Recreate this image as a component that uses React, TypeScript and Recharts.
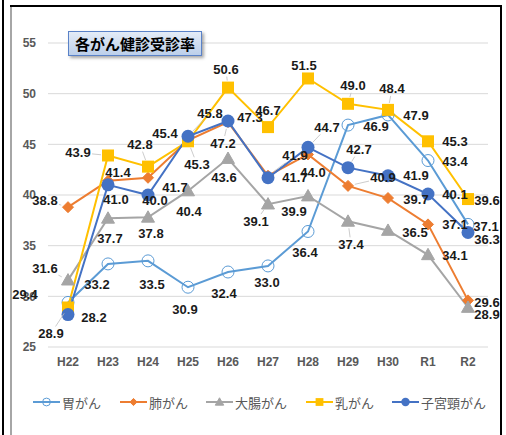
import React from 'react';
import { LineChart, Line, XAxis, YAxis, CartesianGrid, LabelList } from 'recharts';

const categories = ['H22', 'H23', 'H24', 'H25', 'H26', 'H27', 'H28', 'H29', 'H30', 'R1', 'R2'];
const stomach = [29.4, 33.2, 33.5, 30.9, 32.4, 33.0, 36.4, 46.9, 47.9, 43.4, 37.1];
const lung = [38.8, 41.4, 41.7, 45.4, 47.2, 41.9, 44.0, 40.9, 39.7, 37.1, 29.6];
const colorectal = [31.6, 37.7, 37.8, 40.4, 43.6, 39.1, 39.9, 37.4, 36.5, 34.1, 28.9];
const breast = [28.9, 43.9, 42.8, 45.3, 50.6, 46.7, 51.5, 49.0, 48.4, 45.3, 39.6];
const cervical = [28.2, 41.0, 40.0, 45.8, 47.3, 41.7, 44.7, 42.7, 41.9, 40.1, 36.3];
const yTicks = [25, 30, 35, 40, 45, 50, 55];

const seriesNames = ['胃がん', '肺がん', '大腸がん', '乳がん', '子宮頸がん'];
const seriesKeys = ['stomach', 'lung', 'colorectal', 'breast', 'cervical'];
const seriesColors = ['#5B9BD5', '#ED7D31', '#A5A5A5', '#FFC000', '#4472C4'];

const data = categories.map((c, i) => ({
  name: c,
  stomach: stomach[i],
  lung: lung[i],
  colorectal: colorectal[i],
  breast: breast[i],
  cervical: cervical[i],
}));

// label placement offsets (dx, dy, leader)
const labelOffsets: Record<string, [number, number, boolean?][]> = {
  stomach: [[-43, -8], [-11, 21], [4, 24], [-3, 22], [-4, 21], [-1, 17], [-3, 21], [28, 1], [28, 1], [27, 1], [18, 2]],
  lung: [[-23, -7, true], [10, -8], [27, 10], [-23, -7], [-5, 21, true], [27, -20, true], [5, 18], [35, -8, true], [28, 1], [27, 0], [19, 2]],
  colorectal: [[-23, -12, true], [2, 20], [3, 16], [1, 21], [-4, 19], [-12, 17, true], [-14, 15], [3, 23, true], [27, 2], [27, 1], [19, 7]],
  breast: [[-17, 26, true], [-30, -3, true], [-8, -22, true], [9, 23, true], [-2, -18, true], [0, -17], [-4, -13], [5, -18, true], [4, -21, true], [27, 0], [19, 1]],
  cervical: [[26, 3], [8, 15], [7, 5], [22, -23, true], [22, -4], [27, 0], [19, -20, true], [11, -18, true], [28, 0], [27, 1], [19, 7]],
};

const FONT = '"Liberation Sans", Arial, sans-serif';
const JP = '"Noto Sans CJK JP", "Noto Sans", sans-serif';

function MarkerShape({ kind, cx, cy, color, scale = 1 }: { kind: number; cx: number; cy: number; color: string; scale?: number }) {
  if (cx == null || cy == null) return null;
  switch (kind) {
    case 0: {
      const r = 6 * scale;
      return <circle cx={cx} cy={cy} r={r} fill="none" stroke={color} strokeWidth={1} />;
    }
    case 1: {
      const s = 5.5 * scale;
      return <polygon points={`${cx},${cy - s} ${cx + s},${cy} ${cx},${cy + s} ${cx - s},${cy}`} fill={color} stroke={color} />;
    }
    case 2: {
      const s = 6.5 * scale;
      return <polygon points={`${cx},${cy - s} ${cx + s},${cy + s * 0.75} ${cx - s},${cy + s * 0.75}`} fill={color} stroke={color} />;
    }
    case 3: {
      const s = 6 * scale;
      return <rect x={cx - s} y={cy - s} width={2 * s} height={2 * s} fill={color} />;
    }
    default: {
      const r = 6.5 * scale;
      return <circle cx={cx} cy={cy} r={r} fill={color} />;
    }
  }
}

function makeLabel(key: string) {
  return (props: any) => {
    const { x, y, value, index } = props;
    if (x == null || y == null) return null;
    const off = labelOffsets[key][index] || [0, -12];
    const [dx, dy, leader] = off;
    const lx = x + dx;
    const ly = y + dy;
    let line = null;
    if (leader) {
      const L = Math.sqrt(dx * dx + dy * dy);
      const ux = dx / L;
      const uy = dy / L;
      const t = Math.min(ux !== 0 ? 14 / Math.abs(ux) : 999, uy !== 0 ? 7 / Math.abs(uy) : 999);
      const sx = x + ux * 7;
      const sy = y + uy * 7;
      const ex = lx - ux * t;
      const ey = ly - uy * t;
      if (L - 7 - t > 2) {
        line = <line x1={sx} y1={sy} x2={ex} y2={ey} stroke="#BFBFBF" strokeWidth={0.8} />;
      }
    }
    return (
      <g key={`lbl-${key}-${index}`}>
        {line}
        <text
          x={lx}
          y={ly}
          textAnchor="middle"
          dominantBaseline="central"
          fontFamily={FONT}
          fontWeight="bold"
          fontSize={13}
          fill="#1a1a1a"
        >
          {Number(value).toFixed(1)}
        </text>
      </g>
    );
  };
}

function makeDot(kind: number, color: string) {
  return (props: any) => {
    const { cx, cy, index } = props;
    return (
      <g key={`dot-${kind}-${index}`}>
        <MarkerShape kind={kind} cx={cx} cy={cy} color={color} />
      </g>
    );
  };
}

const legendLefts = [33, 120, 206, 306, 392];

export default function App() {
  return (
    <div style={{ position: 'absolute', left: 0, top: 0, width: 506, height: 435, background: '#fff', overflow: 'hidden' }}>
      <LineChart
        width={506}
        height={435}
        data={data}
        margin={{ top: 43, right: 18, bottom: 58, left: 0 }}
      >
        <CartesianGrid horizontal vertical={false} stroke="#D9D9D9" strokeWidth={1} />
        <XAxis
          dataKey="name"
          axisLine={false}
          tickLine={false}
          tickSize={0}
          tickMargin={10}
          height={30}
          padding={{ left: 20, right: 20 }}
          tick={{ fontFamily: FONT, fontWeight: 'bold', fontSize: 12, fill: '#595959' }}
          interval={0}
        />
        <YAxis
          domain={[25, 55]}
          ticks={yTicks}
          width={48}
          axisLine={false}
          tickLine={false}
          tickSize={0}
          tickMargin={12}
          tick={{ fontFamily: FONT, fontWeight: 'bold', fontSize: 12, fill: '#595959' }}
        />
        {seriesKeys.map((k, i) => (
          <Line
            key={k}
            type="linear"
            dataKey={k}
            stroke={seriesColors[i]}
            strokeWidth={2}
            dot={makeDot(i, seriesColors[i])}
            activeDot={false}
            isAnimationActive={false}
          >
            <LabelList dataKey={k} content={makeLabel(k)} />
          </Line>
        ))}
      </LineChart>

      {/* title */}
      <div
        style={{
          position: 'absolute',
          left: 68,
          top: 31,
          width: 132,
          height: 23,
          border: '1px solid #5A82C8',
          background: 'linear-gradient(#E4ECF7, #BCCFEA)',
          boxShadow: '2px 2px 3px rgba(0,0,0,0.35)',
          fontFamily: JP,
          fontWeight: 'bold',
          fontSize: 15,
          lineHeight: '23px',
          textAlign: 'center',
          color: '#000',
          whiteSpace: 'nowrap',
        }}
      >
        各がん健診受診率
      </div>

      {/* legend */}
      {seriesNames.map((n, i) => (
        <div
          key={n}
          style={{ position: 'absolute', left: legendLefts[i], top: 392, height: 20, display: 'flex', alignItems: 'center' }}
        >
          <svg width={27} height={20} style={{ display: 'block' }}>
            <line x1={0} y1={10} x2={27} y2={10} stroke={seriesColors[i]} strokeWidth={2} />
            <MarkerShape kind={i} cx={13.5} cy={10} color={seriesColors[i]} scale={0.65} />
          </svg>
          <span style={{ marginLeft: 2, fontFamily: JP, fontSize: 13, color: '#595959', whiteSpace: 'nowrap' }}>{n}</span>
        </div>
      ))}

      {/* frame */}
      <div style={{ position: 'absolute', left: 2, top: 0, width: 2, height: 435, background: '#000' }} />
      <div style={{ position: 'absolute', left: 10, top: 5, width: 2, height: 430, background: '#A6A6A6' }} />
      <div style={{ position: 'absolute', left: 10, top: 5, width: 492, height: 2, background: '#000' }} />
      <div style={{ position: 'absolute', left: 500, top: 5, width: 2, height: 430, background: '#000' }} />
    </div>
  );
}
